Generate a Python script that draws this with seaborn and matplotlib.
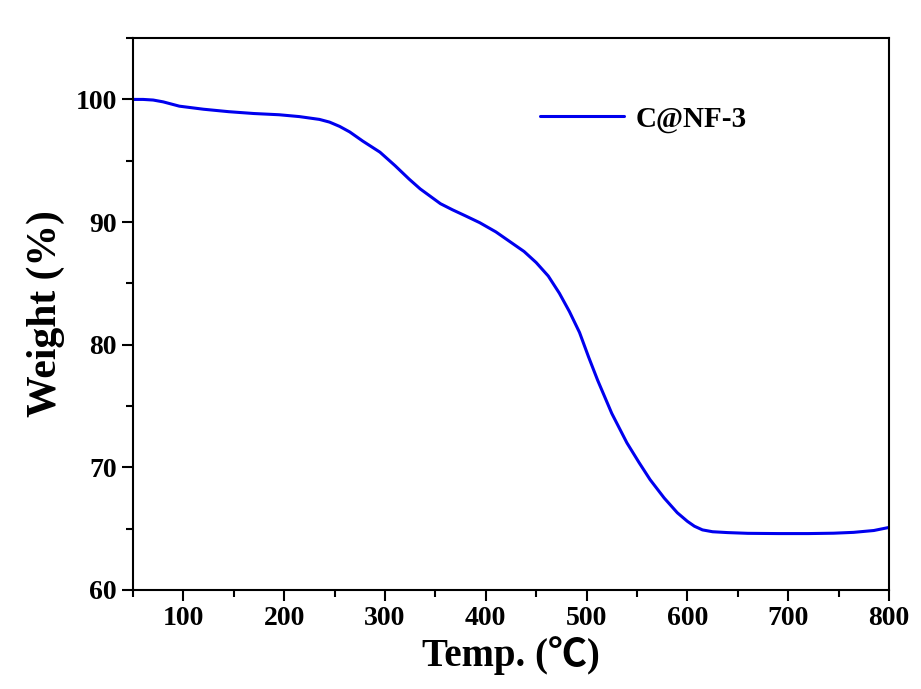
import matplotlib
matplotlib.use("Agg")
import matplotlib.pyplot as plt
import seaborn as sns
import pandas as pd
from matplotlib.ticker import MultipleLocator

# TGA curve
temps = [50, 60, 70, 80, 96, 120, 145, 170, 195, 215, 235, 245, 255, 265, 278,
         295, 310, 324, 335, 345, 355, 367, 380, 394, 410, 424, 438, 450, 462,
         473, 483, 493, 502, 511, 525, 540, 552, 563, 577, 590, 600, 607, 615,
         625, 640, 660, 690, 720, 745, 765, 785, 800]
weights = [100.0, 100.0, 99.95, 99.8, 99.45, 99.2, 99.0, 98.85, 98.75, 98.6,
           98.37, 98.15, 97.8, 97.35, 96.6, 95.7, 94.6, 93.5, 92.7, 92.1, 91.5,
           91.0, 90.5, 89.95, 89.2, 88.4, 87.6, 86.7, 85.6, 84.2, 82.7, 81.0,
           79.0, 77.1, 74.4, 72.0, 70.4, 69.0, 67.5, 66.3, 65.6, 65.2, 64.9,
           64.75, 64.68, 64.62, 64.6, 64.6, 64.63, 64.7, 64.85, 65.1]
sample = "C@NF-3"

x_ticks = [100, 200, 300, 400, 500, 600, 700, 800]
y_ticks = [60, 70, 80, 90, 100]

sns.set_style("ticks")
plt.rcParams['font.family'] = ['Liberation Serif', 'Noto Sans CJK SC', 'DejaVu Sans']
plt.rcParams['font.weight'] = 'bold'
plt.rcParams['text.color'] = 'black'
plt.rcParams['axes.labelcolor'] = 'black'
plt.rcParams['xtick.color'] = 'black'
plt.rcParams['ytick.color'] = 'black'

df = pd.DataFrame({"Temp": temps, "Weight": weights, "Sample": sample})

fig = plt.figure(figsize=(9.21, 6.89), dpi=100)
ax = fig.add_axes([0.1444, 0.1437, 0.8208, 0.801])

sns.lineplot(data=df, x="Temp", y="Weight", hue="Sample", palette=["#0000ee"],
             linewidth=2.2, ax=ax, sort=True)

ax.set_xlim(50, 800)
ax.set_ylim(60, 105)
ax.set_xticks(x_ticks)
ax.set_yticks(y_ticks)
ax.xaxis.set_minor_locator(MultipleLocator(50))
ax.yaxis.set_minor_locator(MultipleLocator(5))

for side in ["left", "right", "top", "bottom"]:
    ax.spines[side].set_visible(True)
    ax.spines[side].set_linewidth(1.5)
    ax.spines[side].set_color("black")

ax.tick_params(which="major", direction="out", length=8, width=1.5,
               labelsize=20, top=False, right=False, colors="black")
ax.tick_params(which="minor", direction="out", length=5, width=1.5,
               top=False, right=False, colors="black")
for lbl in ax.get_xticklabels() + ax.get_yticklabels():
    lbl.set_fontweight("bold")

ax.set_xlabel("Temp. (℃)", fontsize=28, fontweight="bold", labelpad=4, color="black")
ax.set_ylabel("Weight (%)", fontsize=30, fontweight="bold", labelpad=8, color="black")

leg = ax.legend(loc="center left", bbox_to_anchor=(0.538, 0.853), frameon=False,
                handlelength=2.9, handletextpad=0.4,
                borderpad=0, borderaxespad=0, prop={"weight": "bold", "size": 21})
for line in leg.get_lines():
    line.set_linewidth(2.2)
for t in leg.get_texts():
    t.set_color("black")

fig.savefig("out.png", dpi=100, facecolor="white")
